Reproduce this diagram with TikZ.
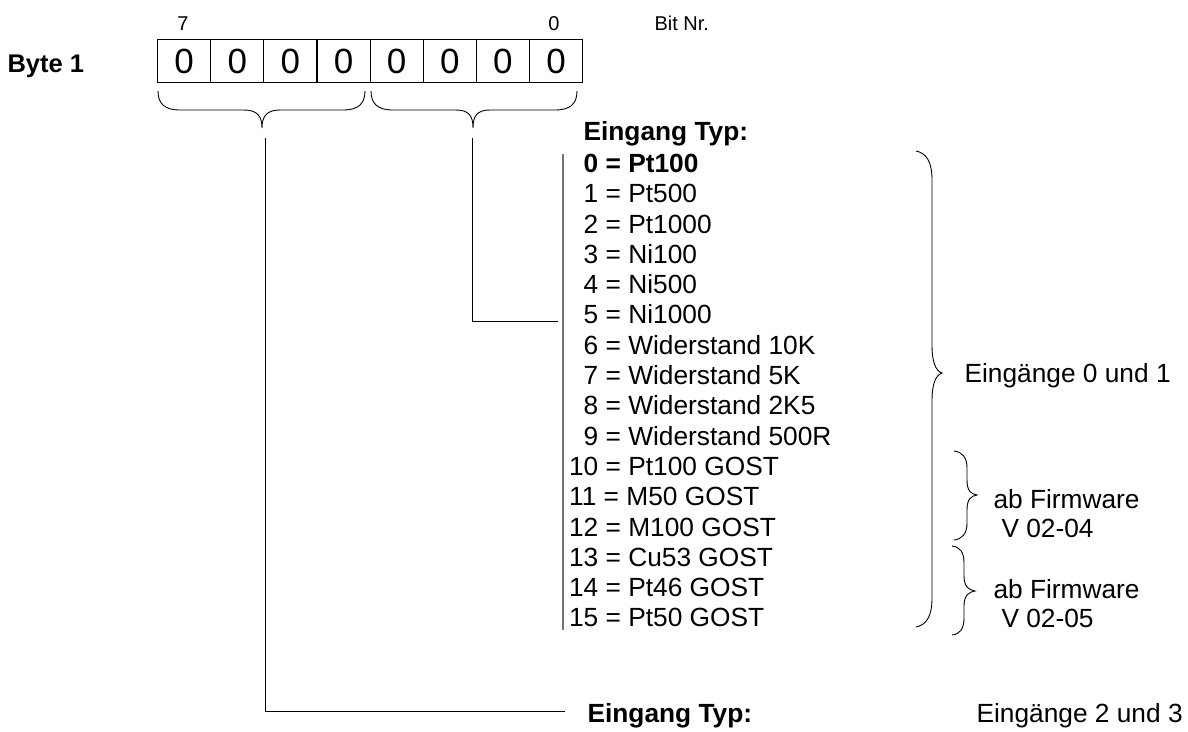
\documentclass[tikz,border=0pt]{standalone}
\usepackage{fontspec}
\setmainfont{Liberation Sans}
\begin{document}
\begin{tikzpicture}[x=1pt,y=-1pt,line width=1pt,
  txt/.style={inner sep=0pt,anchor=base west,font=\fontsize{26.3}{30.3}\selectfont},
  btxt/.style={txt,font=\fontsize{26.3}{30.3}\selectfont\bfseries},
  small/.style={inner sep=0pt,anchor=base,font=\fontsize{20}{23}\selectfont},
  cell/.style={draw,line width=1.2pt,minimum width=53.125pt,minimum height=43pt,inner sep=0pt,anchor=north west,font=\fontsize{35}{40}\selectfont},
  brace/.style={line width=0.9pt},
  conn/.style={line width=1pt},
  bar/.style={line width=1.6pt,draw=black!55}]
\useasboundingbox (0,0) rectangle (1188,731);

% header labels
\node[small] (b7) at (183,30.2) {7};
\node[small] (b0) at (554,30.2) {0};
\node[small,anchor=base west] (bitnr) at (654,30.2) {Bit Nr.};
\node[inner sep=0pt,anchor=base west,font=\fontsize{25.5}{29}\selectfont\bfseries] (byte) at (7,72.1) {Byte 1};

% byte cells
\foreach \i [count=\k from 0] in {7,6,5,4,3,2,1,0}{
  \node[cell] (c\i) at ({157+53.125*\k},39) {0};
}

% horizontal braces
\draw[brace] (158,91) .. controls (158,104) and (165,110) .. (180,110)
  -- (244,110) .. controls (257,110) and (262,116) .. (262,128)
  .. controls (262,116) and (267,110) .. (280,110)
  -- (343,110) .. controls (358,110) and (365,104) .. (365,91);
\draw[brace] (371,91) .. controls (371,104) and (378,110) .. (393,110)
  -- (456,110) .. controls (469,110) and (473,116) .. (473,128)
  .. controls (473,116) and (477,110) .. (490,110)
  -- (555,110) .. controls (570,110) and (577,104) .. (577,91);

% list header and items
\node[btxt] (typ1) at (583,140.4) {Eingang Typ:};
\node[btxt] (r0) at (568.6,172.4) {\hphantom{0}0 = Pt100};
\foreach \t [count=\k from 1] in {Pt500,Pt1000,Ni100,Ni500,Ni1000,Widerstand 10K,Widerstand 5K,Widerstand 2K5,Widerstand 500R}{
  \node[txt] (r\k) at (568.6,{172.4+30.3*\k}) {\hphantom{0}\k{} = \t};
}
\foreach \n/\t in {10/Pt100 GOST,11/M50 GOST,12/M100 GOST,13/Cu53 GOST,14/Pt46 GOST,15/Pt50 GOST}{
  \node[txt] (r\n) at (568.6,{172.4+30.3*\n}) {\n{} = \t};
}

% gray bar
\coordinate (bartop) at (563,154);
\coordinate (barbot) at (563,630);
\draw[bar] (bartop) -- (barbot);

% connectors
\coordinate (la) at (265,138);
\coordinate (lb) at (265,711);
\coordinate (lc) at (565,711);
\coordinate (ra) at (472,138);
\coordinate (rb) at (472,321);
\coordinate (rc) at (558,321);
\draw[conn] (la) -- (lb) -- (lc);
\draw[conn] (ra) -- (rb) -- (rc);

% bottom labels
\node[btxt] (typ2) at (587,722.4) {Eingang Typ:};
\node[txt] (e23) at (976,722.4) {Eingänge 2 und 3};

% big brace
\draw[brace] (916,151) .. controls (926,153) and (932,161) .. (932,180)
  -- (932,345) .. controls (932,363) and (936,371) .. (942,373)
  .. controls (936,375) and (932,383) .. (932,401)
  -- (932,598) .. controls (932,617) and (926,625) .. (916,627);
\node[txt] (e01) at (964,382.4) {Eingänge 0 und 1};

% small braces
\draw[brace] (954,451) .. controls (962,452) and (967,457) .. (967,468)
  -- (967,480) .. controls (967,491) and (971,494) .. (977,495)
  .. controls (971,496) and (967,499) .. (967,510)
  -- (967,523) .. controls (967,534) and (962,539) .. (954,540);
\node[txt] (fw1) at (993,508.4) {ab Firmware};
\node[txt] (v1) at (1001,537.4) {V 02-04};

\draw[brace] (952,546) .. controls (960,547) and (964,552) .. (964,563)
  -- (964,576) .. controls (964,587) and (969,590) .. (975,591)
  .. controls (969,592) and (964,595) .. (964,606)
  -- (964,618) .. controls (964,629) and (960,634) .. (952,635);
\node[txt] (fw2) at (993,598.4) {ab Firmware};
\node[txt] (v2) at (1001,627.4) {V 02-05};
\end{tikzpicture}
\end{document}
